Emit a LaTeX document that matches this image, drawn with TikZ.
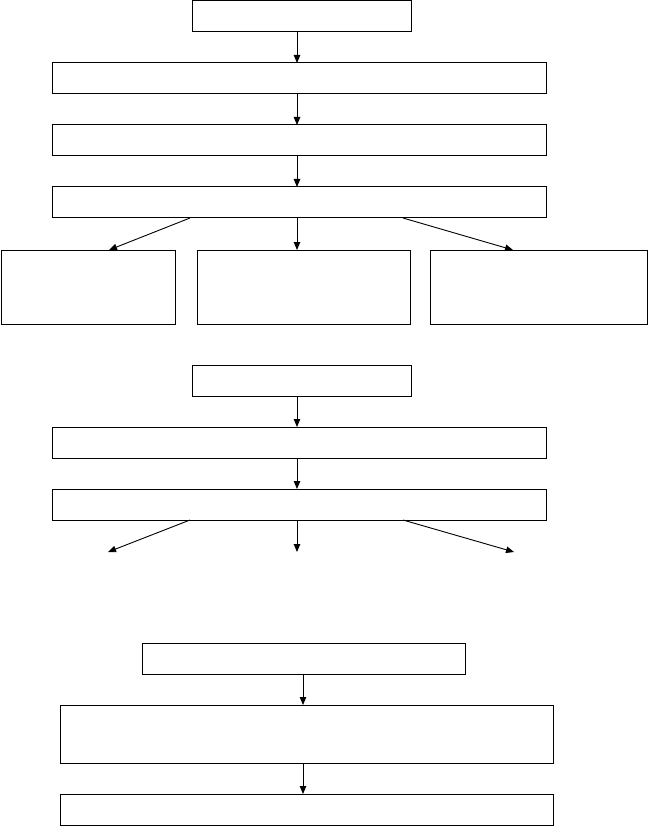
\documentclass[tikz,border=0pt]{standalone}
\usetikzlibrary{arrows.meta}
\begin{document}
\begin{tikzpicture}[x=1pt,y=-1pt,
  box/.style={draw=black,line width=1pt,rectangle,inner sep=0pt,outer sep=0pt,anchor=north west},
  arr/.style={draw=black,line width=0.9pt,-{Triangle[length=8pt,width=6.5pt]}}]
\useasboundingbox (0,0) rectangle (649,826);
% group 1
\node[box,minimum width=219pt,minimum height=31pt] (a) at (192,1) {};
\node[box,minimum width=494pt,minimum height=31pt] (b) at (52,63) {};
\node[box,minimum width=494pt,minimum height=31pt] (c) at (52,125) {};
\node[box,minimum width=494pt,minimum height=31pt] (d) at (52,187) {};
\node[box,minimum width=174pt,minimum height=74pt] (e) at (1,250) {};
\node[box,minimum width=213pt,minimum height=74pt] (f) at (197,250) {};
\node[box,minimum width=217pt,minimum height=74pt] (g) at (430,250) {};
\coordinate (cx) at (297,0);
\coordinate (lx1) at (190,0);
\coordinate (lx2) at (109,0);
\coordinate (rx1) at (403,0);
\coordinate (rx2) at (513,0);
\draw[arr] (cx |- a.south) -- (cx |- b.north);
\draw[arr] (cx |- b.south) -- (cx |- c.north);
\draw[arr] (cx |- c.south) -- (cx |- d.north);
\draw[arr] (cx |- d.south) -- (cx |- f.north);
\draw[arr] (lx1 |- d.south) -- (lx2 |- e.north);
\draw[arr] (rx1 |- d.south) -- (rx2 |- g.north);
% group 2
\node[box,minimum width=219pt,minimum height=31pt] (h) at (192,365) {};
\node[box,minimum width=494pt,minimum height=31pt] (i) at (52,427) {};
\node[box,minimum width=494pt,minimum height=31pt] (j) at (52,489) {};
\coordinate (eL) at (108,552);
\coordinate (eC) at (297,552);
\coordinate (eR) at (514,552);
\draw[arr] (cx |- h.south) -- (cx |- i.north);
\draw[arr] (cx |- i.south) -- (cx |- j.north);
\draw[arr] (cx |- j.south) -- (eC);
\draw[arr] (lx1 |- j.south) -- (eL);
\draw[arr] (rx1 |- j.south) -- (eR);
% group 3
\node[box,minimum width=323pt,minimum height=31pt] (k) at (142,643) {};
\node[box,minimum width=493pt,minimum height=58pt] (l) at (60,705) {};
\node[box,minimum width=493pt,minimum height=31pt] (m) at (60,794) {};
\coordinate (cx3) at (303,0);
\draw[arr] (cx3 |- k.south) -- (cx3 |- l.north);
\draw[arr] (cx3 |- l.south) -- (cx3 |- m.north);
\end{tikzpicture}
\end{document}
